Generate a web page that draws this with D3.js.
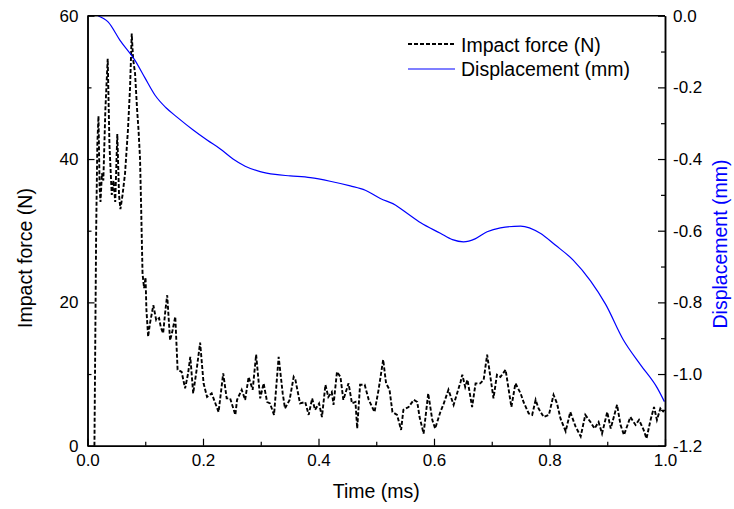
<!DOCTYPE html>
<html lang="en">
<head>
<meta charset="utf-8">
<title>Impact force and displacement</title>
<script src="https://d3js.org/d3.v7.min.js"></script>
<style>
  body { margin: 0; background: #fff; }
  text { font-family: "Liberation Sans", Arial, sans-serif; }
</style>
</head>
<body>
<script>
// impact force (N) against time (ms)
const forceTime = [0.012, 0.015, 0.017, 0.019, 0.021, 0.0225, 0.025, 0.0274, 0.031, 0.035, 0.038, 0.042,
  0.045, 0.048, 0.0516, 0.0546, 0.057, 0.0607, 0.065, 0.070, 0.0737, 0.0766, 0.0789, 0.0823, 0.0858,
  0.0884, 0.091, 0.0927, 0.0953, 0.098, 0.1005, 0.102, 0.105, 0.108, 0.114, 0.119, 0.124, 0.127, 0.131,
  0.135, 0.138, 0.143, 0.147, 0.152, 0.156, 0.163, 0.169, 0.174, 0.178, 0.183, 0.189, 0.195, 0.201,
  0.207, 0.215, 0.227, 0.235, 0.241, 0.247, 0.256, 0.259, 0.267, 0.273, 0.279, 0.286, 0.292, 0.299,
  0.305, 0.311, 0.316, 0.323, 0.331, 0.338, 0.342, 0.350, 0.357, 0.360, 0.368, 0.377, 0.383, 0.389,
  0.394, 0.401, 0.406, 0.412, 0.417, 0.423, 0.426, 0.432, 0.438, 0.443, 0.452, 0.458, 0.464, 0.467,
  0.472, 0.480, 0.487, 0.497, 0.504, 0.512, 0.517, 0.523, 0.528, 0.536, 0.543, 0.547, 0.556, 0.565,
  0.571, 0.575, 0.582, 0.590, 0.597, 0.602, 0.611, 0.617, 0.625, 0.634, 0.646, 0.649, 0.654, 0.658,
  0.666, 0.672, 0.680, 0.686, 0.692, 0.698, 0.703, 0.709, 0.715, 0.724, 0.728, 0.734, 0.741, 0.750,
  0.755, 0.764, 0.770, 0.776, 0.781, 0.790, 0.799, 0.807, 0.813, 0.819, 0.828, 0.836, 0.845, 0.854,
  0.862, 0.871, 0.878, 0.885, 0.891, 0.900, 0.906, 0.917, 0.923, 0.929, 0.940, 0.949, 0.955, 0.963,
  0.968, 0.975, 0.981, 0.986, 0.992, 0.998];
const forceVal = [0, 30, 42, 46, 36, 34, 38, 37, 47, 54, 42, 35,
  37, 34, 43.5, 35, 33, 35, 38, 44, 50, 57.5, 54, 52, 47,
  44, 40, 34, 24, 22, 23.5, 19, 15.2, 17, 19.6, 17.5, 17.8, 16.5, 15.7,
  19, 21, 14.7, 16, 18, 10.6, 10.3, 8.0, 10, 12.4, 7.3, 10.6, 14.4, 8.7,
  6.8, 7.3, 4.7, 10.1, 6.6, 6.6, 4.3, 6.4, 7.8, 6.4, 9.6, 7.8, 12.7, 6.6,
  8.7, 6.1, 5.9, 4.3, 12.4, 7.3, 5.2, 6.4, 9.6, 9.2, 5.9, 6.1, 4.3, 6.6,
  5.0, 5.9, 4.0, 8.5, 6.8, 7.5, 5.7, 10.3, 9.6, 6.4, 8.7, 5.9, 6.1, 2.4,
  8.5, 8.5, 6.4, 4.7, 7.8, 12.0, 8.7, 7.8, 4.7, 4.3, 2.2, 5.0, 5.4, 6.4,
  6.1, 4.0, 1.7, 7.3, 3.6, 2.4, 4.7, 5.9, 7.8, 5.7, 8.9, 9.9, 8.2, 9.2,
  5.4, 8.7, 8.7, 9.2, 12.7, 9.4, 6.6, 9.9, 9.6, 10.6, 8.5, 5.4, 8.7, 7.3,
  6.1, 4.5, 4.3, 6.4, 5.2, 4.0, 4.3, 7.1, 5.9, 3.8, 2.0, 4.7, 2.7, 1.3,
  4.3, 3.3, 2.4, 3.3, 1.7, 4.7, 2.4, 5.7, 2.9, 1.5, 4.0, 2.9, 3.6, 2.2,
  1.0, 3.6, 5.4, 3.6, 5.2, 4.7];

// displacement (mm) against time (ms)
const dispTime = [0.018, 0.036, 0.056, 0.082, 0.100, 0.117, 0.136, 0.155, 0.183, 0.207, 0.230, 0.252,
  0.273, 0.299, 0.325, 0.351, 0.386, 0.420, 0.455, 0.481, 0.507, 0.533, 0.554, 0.577, 0.611, 0.632, 0.651,
  0.672, 0.692, 0.715, 0.750, 0.784, 0.810, 0.841, 0.871, 0.897, 0.928, 0.958, 0.987, 0.999];
const dispVal = [0, -0.018, -0.068, -0.124, -0.175, -0.222, -0.257, -0.283, -0.319, -0.347, -0.372, -0.400,
  -0.420, -0.435, -0.443, -0.447, -0.452, -0.462, -0.475, -0.487, -0.51, -0.528, -0.552, -0.578, -0.607, -0.625, -0.631,
  -0.622, -0.603, -0.592, -0.587, -0.607, -0.64, -0.682, -0.74, -0.805, -0.905, -0.975, -1.04, -1.077];

const xTicks = [0, 0.2, 0.4, 0.6, 0.8, 1.0];
const forceTicks = [0, 20, 40, 60];
const dispTicks = [0, -0.2, -0.4, -0.6, -0.8, -1.0, -1.2];

const w = 734, h = 509;
const m = {left: 87.5, right: 69, top: 15.7, bottom: 63.3};

const svg = d3.select("body").append("svg")
  .attr("width", w)
  .attr("height", h);

const x = d3.scaleLinear().domain([0, 1]).range([m.left, w - m.right]);
const yF = d3.scaleLinear().domain([0, 60]).range([h - m.bottom, m.top]);
const yD = d3.scaleLinear().domain([-1.2, 0]).range([h - m.bottom, m.top]);

const plot = svg.append("g");

// force line (dashed black)
const forceData = forceTime.map((t, i) => [t, forceVal[i]]);
plot.append("path")
  .datum(forceData)
  .attr("fill", "none")
  .attr("stroke", "#000")
  .attr("stroke-width", 1.9)
  .attr("stroke-dasharray", "4,2")
  .attr("d", d3.line().x(d => x(d[0])).y(d => yF(d[1])));

// displacement line (blue)
const dispData = dispTime.map((t, i) => [t, dispVal[i]]);
plot.append("path")
  .datum(dispData)
  .attr("fill", "none")
  .attr("stroke", "#0000ff")
  .attr("stroke-width", 1.2)
  .attr("d", d3.line().curve(d3.curveMonotoneX).x(d => x(d[0])).y(d => yD(d[1])));

// axes, ticks pointing inward; plain hyphen for negatives like the original
const fmt1 = d => d3.format(".1f")(d).replace("\u2212", "-");

svg.append("g")
  .attr("transform", `translate(0,${h - m.bottom})`)
  .call(d3.axisBottom(x).tickValues(xTicks).tickFormat(fmt1).tickSizeInner(-7).tickSizeOuter(0).tickPadding(8));
svg.append("g")
  .attr("transform", `translate(0,${h - m.bottom})`)
  .call(d3.axisBottom(x).tickValues([0.1, 0.3, 0.5, 0.7, 0.9]).tickFormat("").tickSizeInner(-4).tickSizeOuter(0));

svg.append("g")
  .attr("transform", `translate(${m.left},0)`)
  .call(d3.axisLeft(yF).tickValues(forceTicks).tickSizeInner(-7).tickSizeOuter(0).tickPadding(9));
svg.append("g")
  .attr("transform", `translate(${m.left},0)`)
  .call(d3.axisLeft(yF).tickValues([10, 30, 50]).tickFormat("").tickSizeInner(-4).tickSizeOuter(0));

svg.append("g")
  .attr("transform", `translate(${w - m.right},0)`)
  .call(d3.axisRight(yD).tickValues(dispTicks).tickFormat(fmt1).tickSizeInner(-7).tickSizeOuter(0).tickPadding(8));
svg.append("g")
  .attr("transform", `translate(${w - m.right},0)`)
  .call(d3.axisRight(yD).tickValues([-0.1, -0.3, -0.5, -0.7, -0.9, -1.1]).tickFormat("").tickSizeInner(-4).tickSizeOuter(0));

// top frame line
svg.append("line")
  .attr("x1", m.left).attr("x2", w - m.right)
  .attr("y1", m.top).attr("y2", m.top)
  .attr("stroke", "#000").attr("stroke-width", 1.5);

svg.selectAll(".domain").attr("stroke-width", 1.5);
svg.selectAll(".tick line").attr("stroke-width", 1.2);
svg.selectAll(".tick text")
  .attr("font-size", 17)
  .attr("font-family", "Liberation Sans, Arial, sans-serif")
  .attr("fill", "#000");

// axis titles
svg.append("text")
  .attr("x", (m.left + w - m.right) / 2)
  .attr("y", 498)
  .attr("text-anchor", "middle")
  .attr("font-size", 19.5)
  .text("Time (ms)");

svg.append("text")
  .attr("transform", "translate(32,258) rotate(-90)")
  .attr("text-anchor", "middle")
  .attr("font-size", 19.5)
  .text("Impact force (N)");

svg.append("text")
  .attr("transform", "translate(727,244) rotate(-90)")
  .attr("text-anchor", "middle")
  .attr("font-size", 19.5)
  .attr("fill", "#0000ff")
  .text("Displacement (mm)");

// legend
const legend = svg.append("g");
legend.append("line")
  .attr("x1", 408).attr("x2", 455).attr("y1", 44).attr("y2", 44)
  .attr("stroke", "#000").attr("stroke-width", 1.9).attr("stroke-dasharray", "4,2");
legend.append("text")
  .attr("x", 461).attr("y", 51.5)
  .attr("font-size", 19.5)
  .text("Impact force (N)");
legend.append("line")
  .attr("x1", 408).attr("x2", 455).attr("y1", 69).attr("y2", 69)
  .attr("stroke", "#0000ff").attr("stroke-width", 1.2);
legend.append("text")
  .attr("x", 461).attr("y", 76)
  .attr("font-size", 19.5)
  .text("Displacement (mm)");
</script>
</body>
</html>
